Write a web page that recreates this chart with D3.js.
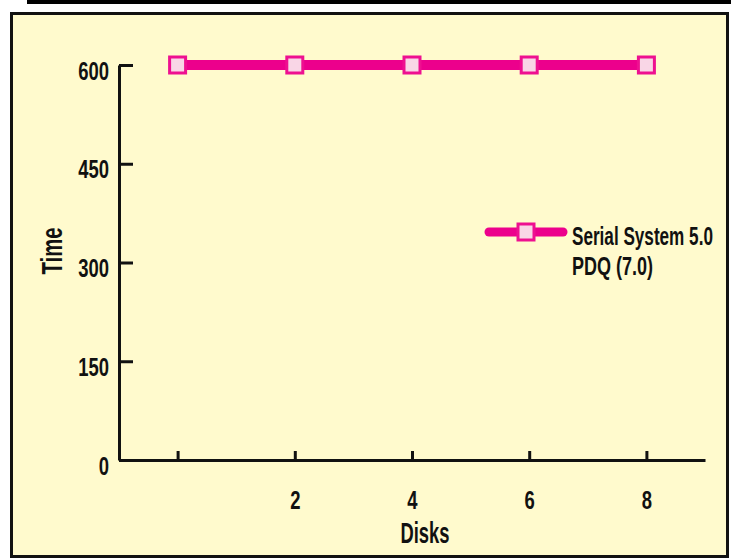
<!DOCTYPE html>
<html>
<head>
<meta charset="utf-8">
<script src="https://cdn.jsdelivr.net/npm/d3@7"></script>
<style>
  body { margin: 0; background: #fff; }
  text { font-family: "Liberation Sans", Arial, sans-serif; font-weight: bold; fill: #111; }
</style>
</head>
<body>
<div id="chart"></div>
<script>
// data
const disks = [0, 2, 4, 6, 8];
const times = [600, 600, 600, 600, 600];
const xTicks = [0, 2, 4, 6, 8];
const yTicks = [0, 150, 300, 450, 600];
const legendLines = ["Serial System 5.0", "PDQ (7.0)"];

const W = 731, H = 560;
const magenta = "#ec008c";

const svg = d3.select("#chart")
  .append("svg")
  .attr("width", W)
  .attr("height", H);

// top rule + panel
svg.append("rect")
  .attr("x", 27).attr("y", 0)
  .attr("width", W - 27).attr("height", 4)
  .attr("fill", "#000");

svg.append("rect")
  .attr("x", 11.5).attr("y", 13.5)
  .attr("width", 716).attr("height", 543)
  .attr("fill", "#fffacd")
  .attr("stroke", "#111")
  .attr("stroke-width", 3);

const x = d3.scaleLinear().domain([-1, 9]).range([119, 705]);
const y = d3.scaleLinear().domain([0, 600]).range([460, 65]);

// axes
const gx = svg.append("g")
  .attr("transform", `translate(0,${y(0)})`)
  .call(d3.axisBottom(x).tickValues(xTicks).tickSize(-9).tickSizeOuter(0)
    .tickFormat(d => d === 0 ? "" : d));

const gy = svg.append("g")
  .attr("transform", `translate(${x(-1)},0)`)
  .call(d3.axisLeft(y).tickValues(yTicks).tickSize(-14).tickSizeOuter(0));

[gx, gy].forEach(g => {
  g.select(".domain").attr("stroke", "#111").attr("stroke-width", 3);
  g.selectAll(".tick line").attr("stroke", "#111").attr("stroke-width", 3);
  g.selectAll(".tick text").style("font-size", "26px").attr("fill", "#111");
});
gx.attr("font-family", null).attr("font-size", null);
gy.attr("font-family", null).attr("font-size", null);

gx.selectAll(".tick text").attr("y", 49).attr("dy", null);
gy.selectAll(".tick text").attr("x", -10).attr("y", 14).attr("dy", null);

// axis titles
svg.append("text")
  .attr("data-w", 49)
  .attr("text-anchor", "middle")
  .attr("x", 425)
  .attr("y", 543)
  .style("font-size", "29px")
  .text("Disks");

svg.append("text")
  .attr("data-w", 47)
  .attr("text-anchor", "middle")
  .attr("transform", "rotate(-90)")
  .attr("x", -251)
  .attr("y", 62)
  .style("font-size", "30px")
  .text("Time");

// series
const line = d3.line()
  .x((d, i) => x(disks[i]))
  .y(d => y(d));

svg.append("path")
  .datum(times)
  .attr("fill", "none")
  .attr("stroke", magenta)
  .attr("stroke-width", 10)
  .attr("d", line);

svg.selectAll("rect.pt")
  .data(times)
  .enter()
  .append("rect")
  .attr("class", "pt")
  .attr("x", (d, i) => x(disks[i]) - 8)
  .attr("y", d => y(d) - 8)
  .attr("width", 16)
  .attr("height", 16)
  .attr("fill", "#f9d6e6")
  .attr("stroke", "#ee1090")
  .attr("stroke-width", 3);

// legend
const lg = svg.append("g").attr("transform", "translate(485,232)");
lg.append("line")
  .attr("x1", 4).attr("x2", 78)
  .attr("stroke", magenta)
  .attr("stroke-width", 9)
  .attr("stroke-linecap", "round");
lg.append("rect")
  .attr("x", 33).attr("y", -8)
  .attr("width", 16).attr("height", 16)
  .attr("fill", "#f9d6e6")
  .attr("stroke", "#ee1090")
  .attr("stroke-width", 3);
const legendW = [141, 81];
lg.selectAll("text.lbl")
  .data(legendLines)
  .enter()
  .append("text")
  .attr("class", "lbl")
  .attr("data-w", (d, i) => legendW[i])
  .attr("x", 87)
  .attr("y", (d, i) => 13 + i * 30)
  .style("font-size", "25px")
  .text(d => d);

// condensed look: squeeze every text horizontally
svg.selectAll("text").each(function() {
  const t = d3.select(this);
  const nat = this.getComputedTextLength();
  if (!nat) return;
  const k = t.attr("data-w") ? +t.attr("data-w") / nat : 0.71;
  const tx = +t.attr("x") || 0, ty = +t.attr("y") || 0;
  const prev = t.attr("transform") || "";
  t.attr("x", 0).attr("y", 0)
    .attr("transform", `${prev} translate(${tx},${ty}) scale(${k},1)`);
});
</script>
</body>
</html>
